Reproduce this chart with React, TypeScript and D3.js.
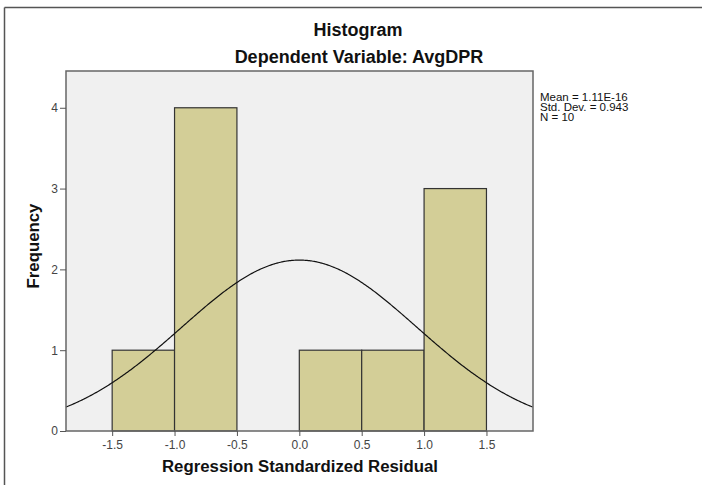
import React, { useEffect, useRef } from 'react';
import * as d3 from 'd3';

// histogram bins (lower edge, upper edge, count)
const binStarts = [-1.5, -1.0, -0.5, 0.0, 0.5, 1.0];
const binEnds = [-1.0, -0.5, 0.0, 0.5, 1.0, 1.5];
const binCounts = [1, 4, 0, 1, 1, 3];
const xTicks = [-1.5, -1.0, -0.5, 0.0, 0.5, 1.0, 1.5];
const yTicks = [0, 1, 2, 3, 4];
const statLines = ['Mean = 1.11E-16', 'Std. Dev. = 0.943', 'N = 10'];
const meanVal = 0;
const sdVal = 0.943;
const nVal = 10;

const App = () => {
  const ref = useRef<SVGSVGElement | null>(null);

  useEffect(() => {
    if (!ref.current) return;
    const svg = d3.select(ref.current);
    svg.selectAll('*').remove();

    const font = 'Arial, "Liberation Sans", sans-serif';
    const margin = { top: 71, left: 66 };
    const width = 467;
    const height = 360;

    // outer frame (only top and left edges visible)
    svg.append('line').attr('x1', 4.5).attr('y1', 7.5).attr('x2', 702).attr('y2', 7.5)
      .attr('stroke', '#555').attr('stroke-width', 1.5);
    svg.append('line').attr('x1', 4.5).attr('y1', 7.5).attr('x2', 4.5).attr('y2', 485)
      .attr('stroke', '#555').attr('stroke-width', 1.5);

    // titles
    svg.append('text').attr('x', 358).attr('y', 36).attr('text-anchor', 'middle')
      .style('font-family', font).style('font-size', '18px').style('font-weight', 'bold')
      .attr('fill', '#111').text('Histogram');
    svg.append('text').attr('x', 359).attr('y', 63).attr('text-anchor', 'middle')
      .style('font-family', font).style('font-size', '18px').style('font-weight', 'bold')
      .attr('fill', '#111').text('Dependent Variable: AvgDPR');

    const g = svg.append('g').attr('transform', `translate(${margin.left},${margin.top})`);

    const x = d3.scaleLinear().domain([-1.87, 1.873]).range([0, width]);
    const y = d3.scaleLinear().domain([0, 4.455]).range([height, 0]);

    // plot background
    g.append('rect').attr('width', width).attr('height', height).attr('fill', '#f0f0f0');

    // bars
    g.selectAll('rect.bar')
      .data(binCounts.map((c, i) => ({ x0: binStarts[i], x1: binEnds[i], c })).filter(d => d.c > 0))
      .enter()
      .append('rect')
      .attr('class', 'bar')
      .attr('x', d => x(d.x0))
      .attr('y', d => y(d.c))
      .attr('width', d => x(d.x1) - x(d.x0))
      .attr('height', d => y(0) - y(d.c))
      .attr('fill', '#d3ce97')
      .attr('stroke', '#333')
      .attr('stroke-width', 1.2);

    // fitted normal curve from the reported mean / sd
    const binWidth = 0.5;
    const xs = d3.range(-1.87, 1.874, 0.01);
    const normal = (v: number) =>
      (nVal * binWidth) / (sdVal * Math.sqrt(2 * Math.PI)) *
      Math.exp(-((v - meanVal) ** 2) / (2 * sdVal * sdVal));
    const line = d3.line<number>().x(v => x(v)).y(v => y(normal(v))).curve(d3.curveBasis);
    g.append('path').datum(xs).attr('d', line).attr('fill', 'none')
      .attr('stroke', '#111').attr('stroke-width', 1.2);

    // plot border
    g.append('rect').attr('width', width).attr('height', height).attr('fill', 'none')
      .attr('stroke', '#666').attr('stroke-width', 1.5);

    // axes
    const xAxis = g.append('g').attr('transform', `translate(0,${height})`)
      .call(d3.axisBottom(x).tickValues(xTicks).tickFormat(d => d3.format('.1f')(d as number).replace('−', '-')).tickSize(5).tickSizeOuter(0));
    const yAxis = g.append('g')
      .call(d3.axisLeft(y).tickValues(yTicks).tickFormat(d3.format('d')).tickSize(6).tickSizeOuter(0));
    [xAxis, yAxis].forEach(a => {
      a.select('.domain').remove();
      a.selectAll('line').attr('stroke', '#555');
      a.selectAll('text').style('font-family', font).style('font-size', '12px').attr('fill', '#444');
    });
    xAxis.selectAll('text').attr('dy', '0.85em');
    yAxis.selectAll('text').attr('x', -8);

    // axis labels
    svg.append('text').attr('x', 300).attr('y', 472).attr('text-anchor', 'middle')
      .style('font-family', font).style('font-size', '16.8px').style('font-weight', 'bold')
      .attr('fill', '#111').text('Regression Standardized Residual');
    svg.append('text').attr('transform', 'translate(39,246) rotate(-90)').attr('text-anchor', 'middle')
      .style('font-family', font).style('font-size', '16.8px').style('font-weight', 'bold')
      .attr('fill', '#111').text('Frequency');

    // stats box text
    svg.append('g').selectAll('text').data(statLines).enter().append('text')
      .attr('x', 540).attr('y', (d, i) => 101 + i * 10)
      .style('font-family', font).style('font-size', '11.5px').attr('fill', '#111')
      .text(d => d);
  }, []);

  return (
    <svg ref={ref} width={702} height={485}
      style={{ position: 'absolute', left: 0, top: 0, background: '#fff' }} />
  );
};

export default App;
